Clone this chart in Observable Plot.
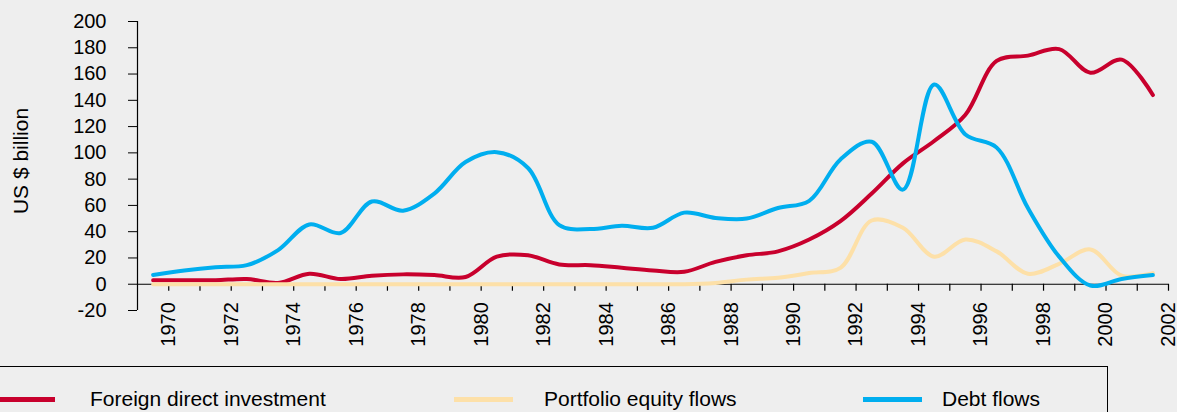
<!DOCTYPE html>
<html><head><meta charset="utf-8">
<script src="https://cdn.jsdelivr.net/npm/d3@7"></script>
<script src="https://cdn.jsdelivr.net/npm/@observablehq/plot@0.6"></script>
<style>
html,body{margin:0;padding:0;background:#eeeeee;width:1177px;height:412px;overflow:hidden;font-family:"Liberation Sans",Arial,sans-serif;}
#chart{position:absolute;left:0;top:0;}
#legend{position:absolute;left:-10px;top:366px;width:1118px;height:80px;border-top:1.5px solid #000;border-right:1.5px solid #000;box-sizing:border-box;}
.sw{position:absolute;height:5px;top:30px;}
.lt{position:absolute;top:20px;font-size:21px;line-height:24px;color:#000;white-space:nowrap;}
</style>
</head><body>
<div id="chart"></div>
<div id="legend"></div>
<script>
const years = [1970,1971,1972,1973,1974,1975,1976,1977,1978,1979,1980,1981,1982,1983,1984,1985,1986,1987,1988,1989,1990,1991,1992,1993,1994,1995,1996,1997,1998,1999,2000,2001,2002];
const fdi = [3,3,3,4,1,8,4,6.5,7.5,7,5.5,21,22,15,14.5,12.5,10.5,9.5,17,22,25,34,48,69,92,109,129,170,174,179,161,171,144];
const portfolio = [0,0,0,0,0,0,0,0,0,0,0,0,0,0,0,0,0,0,1,3.5,5,8.5,12.5,48.5,43,21,34,25,8,15.5,26.5,6.5,8.5];
const debt = [7,10.5,13,14.5,26,45.5,39,63,56,69,93,100.5,88.5,45,42,44.5,43,54.5,50.5,50,58,63.5,95,108.5,72,152,114,104,58,21,-1,4,7];
const seriesNames = ["Foreign direct investment","Portfolio equity flows","Debt flows"];
const seriesColors = ["#c8002d","#fde0a8","#00aeef"];
const yTicks = [-20,0,20,40,60,80,100,120,140,160,180,200];
const xTickYears = [1970,1971,1972,1973,1974,1975,1976,1977,1978,1979,1980,1981,1982,1983,1984,1985,1986,1987,1988,1989,1990,1991,1992,1993,1994,1995,1996,1997,1998,1999,2000,2001,2002];
const xLabelYears = [1970,1972,1974,1976,1978,1980,1982,1984,1986,1988,1990,1992,1994,1996,1998,2000,2002];
const xDomain = [1969, 2002];
const yDomain = [-20, 200];
const yTitle = "US $ billion";

const seriesValues = [fdi, portfolio, debt];
const rows = [];
seriesValues.forEach((vals, s) => {
  vals.forEach((v, i) => rows.push({series: seriesNames[s], year: years[i], value: v}));
});

const chart = Plot.plot({
  width: 1177,
  height: 366,
  marginLeft: 137,
  marginRight: 9,
  marginTop: 21,
  marginBottom: 56,
  style: {background: "#eeeeee", fontFamily: "Liberation Sans, Arial, sans-serif", fontSize: "20px", color: "#000"},
  x: {domain: xDomain, axis: null},
  y: {domain: yDomain, axis: null},
  color: {domain: seriesNames, range: seriesColors},
  marks: [
    Plot.axisY(yTicks, {tickSize: 9, tickPadding: 22, fontSize: 20, label: null, stroke: "#000", tickFormat: d => String(d)}),
    Plot.ruleX([xDomain[0]], {y1: yDomain[0], y2: yDomain[1], stroke: "#000", strokeWidth: 1.2}),
    Plot.ruleY([0], {stroke: "#000", strokeWidth: 1.2}),
    Plot.ruleX(xTickYears, {x: d => d, y1: d => 0, y2: d => 0, insetBottom: -7, stroke: "#000", strokeWidth: 1.2}),
    Plot.text(xLabelYears, {x: d => d, y: d => 0, text: d => String(d), rotate: -90, textAnchor: "end", dy: 18, fontSize: 20, fill: "#000"}),
    Plot.text([yTitle], {frameAnchor: "left", textAnchor: "middle", dx: -116, dy: -5, rotate: -90, fontSize: 21, fill: "#000"}),
    Plot.line(rows, {x: d => d.year - 0.5, y: "value", z: "series", stroke: "series", strokeWidth: 4, curve: "catmull-rom"})
  ]
});
document.getElementById("chart").appendChild(chart);

const legendX = [[10, 65, 100], [464, 523, 554], [873, 932, 952]];
const legend = document.getElementById("legend");
seriesNames.forEach((name, i) => {
  const [x0, x1, tx] = legendX[i];
  const sw = document.createElement("div");
  sw.className = "sw";
  sw.style.left = x0 + "px";
  sw.style.width = (x1 - x0) + "px";
  sw.style.background = seriesColors[i];
  legend.appendChild(sw);
  const t = document.createElement("div");
  t.className = "lt";
  t.style.left = tx + "px";
  t.textContent = name;
  legend.appendChild(t);
});
</script>
</body></html>
